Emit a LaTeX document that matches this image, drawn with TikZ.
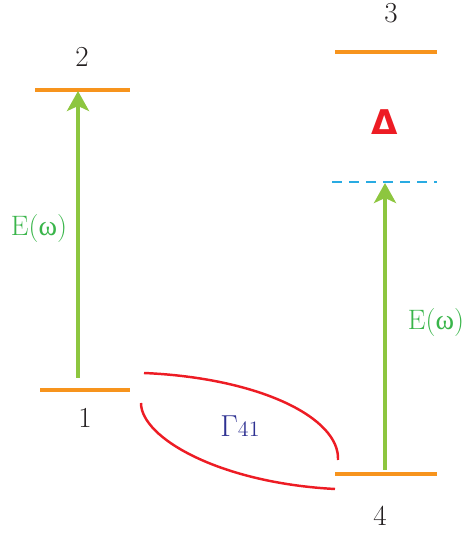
\documentclass[tikz,border=0pt]{standalone}
\usepackage{fontspec}
\usetikzlibrary{arrows.meta}
\newfontfamily\grkfont{Liberation Serif}
\newfontfamily\dvfont{DejaVu Sans}
\definecolor{lvlorange}{HTML}{F7941D}
\definecolor{pumpgreen}{HTML}{8DC63F}
\definecolor{txtgreen}{HTML}{39B54A}
\definecolor{decayred}{HTML}{ED1C24}
\definecolor{virtblue}{HTML}{29ABE2}
\definecolor{gamblue}{HTML}{2E3192}
\definecolor{numgray}{HTML}{231F20}
\tikzset{
  level/.style={lvlorange,line width=2.3pt},
  pump/.style={pumpgreen,line width=2.8pt,-{Stealth[length=4mm,width=4.4mm,inset=1mm]}},
  numlbl/.style={numgray,font=\fontsize{16.5}{20}\selectfont},
  fieldlbl/.style={txtgreen,font=\fontsize{16}{20}\selectfont},
}

\begin{document}
\begin{tikzpicture}
\useasboundingbox (0,0) rectangle (9.24,10.66);
% energy levels
\coordinate (l2a) at (0.70,8.86); \coordinate (l2b) at (2.60,8.86);
\coordinate (l1a) at (0.80,2.86); \coordinate (l1b) at (2.60,2.86);
\coordinate (l3a) at (6.70,9.62); \coordinate (l3b) at (8.74,9.62);
\coordinate (l4a) at (6.70,1.18); \coordinate (l4b) at (8.74,1.18);
\draw[level] (l2a) -- (l2b);
\draw[level] (l1a) -- (l1b);
\draw[level] (l3a) -- (l3b);
\draw[level] (l4a) -- (l4b);
\node[numlbl] (n2) at (1.64,9.52) {2};
\node[numlbl] (n1) at (1.70,2.30) {1};
\node[numlbl] (n3) at (7.82,10.40) {3};
\node[numlbl] (n4) at (7.60,0.34) {4};
% virtual level and detuning
\coordinate (va) at (6.64,7.02); \coordinate (vb) at (8.74,7.02);
\draw[virtblue,line width=1.3pt,dash pattern=on 0.2cm off 0.14cm] (va) -- (vb);
\node[decayred,font=\fontsize{19.4}{22}\selectfont\dvfont\bfseries] (det) at (7.70,8.22) {Δ};
% pump arrows
\coordinate (p1s) at (1.56,3.10); \coordinate (p1e) at (1.56,8.84);
\coordinate (p2s) at (7.70,1.26); \coordinate (p2e) at (7.70,7.00);
\draw[pump] (p1s) -- (p1e);
\draw[pump] (p2s) -- (p2e);
\node[fieldlbl] (e1) at (0.78,6.10) {E({\grkfont ω})};
\node[fieldlbl] (e2) at (8.72,4.22) {E({\grkfont ω})};
% decay 4-1
\coordinate (ga) at (2.88,3.20); \coordinate (gb) at (6.76,1.46);
\coordinate (gc) at (2.82,2.60); \coordinate (gd) at (6.70,0.88);
\draw[decayred,line width=1.4pt] (ga) .. controls (5.2,3.1) and (6.8,2.3) .. (gb);
\draw[decayred,line width=1.4pt] (gc) .. controls (2.82,1.9) and (4.4,1.0) .. (gd);
\node[gamblue,anchor=base] (gam) at (4.80,1.92) {\fontsize{19}{20}\selectfont$\Gamma$\fontsize{12.5}{14}\selectfont 41};
\end{tikzpicture}
\end{document}
